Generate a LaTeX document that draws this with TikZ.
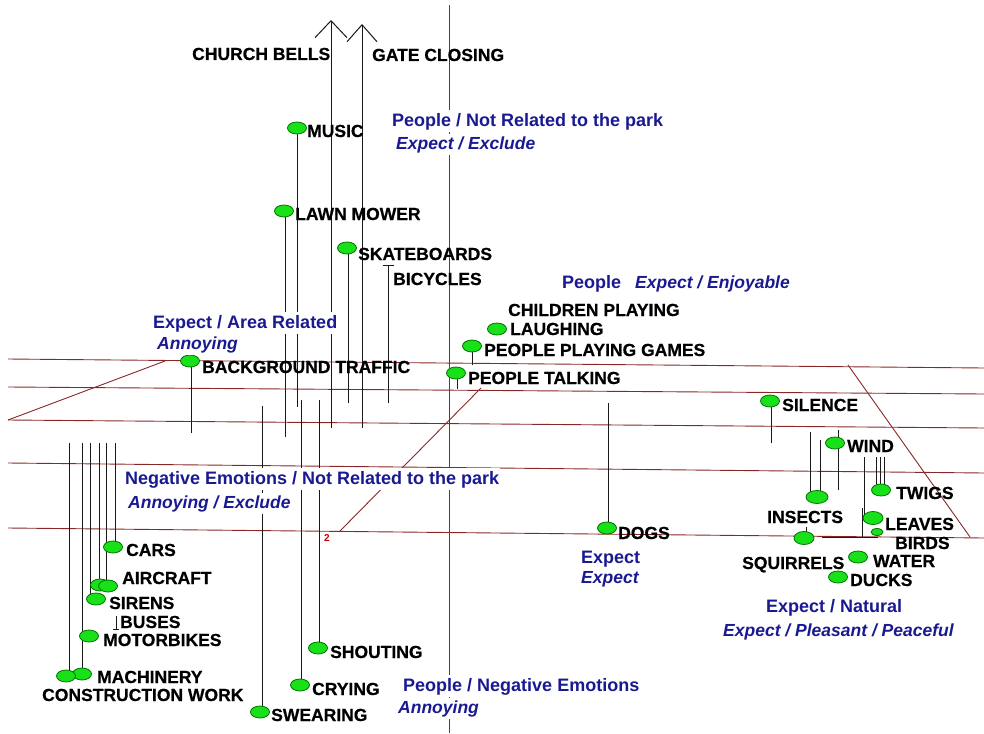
\documentclass[tikz,border=0pt]{standalone}
\usepackage{fontspec}
\setmainfont{Liberation Sans}
\newfontfamily\lblfont{Liberation Sans}[FakeBold=0.6]
\usetikzlibrary{shapes.geometric,arrows.meta}
\pgfdeclarelayer{back}
\pgfsetlayers{back,main}
\definecolor{gridred}{RGB}{135,40,40}
\definecolor{navytxt}{RGB}{25,25,145}
\definecolor{blobgreen}{RGB}{25,225,25}
\definecolor{blobline}{RGB}{0,115,0}
\begin{document}
\begin{tikzpicture}[x=1pt,y=-1pt,%
% lines of the map:
axis/.style = {draw=gridred, line width=0.9pt},
% drop lines of the sounds:
stem/.style = {draw=black!90, line width=1pt},
% green sound markers:
blob/.style = {ellipse, draw=blobline, fill=blobgreen, line width=0.8pt,
            minimum width=19pt, minimum height=12pt, inner sep=0},
% sound names:
lbl/.style = {anchor=base west, inner sep=0, font=\lblfont\bfseries\fontsize{17.5}{18}\selectfont},
% blue group captions:
grp/.style = {anchor=base west, inner xsep=1pt, inner ysep=2.5pt, fill=white,
            text=navytxt, font=\bfseries\fontsize{18}{18}\selectfont},
grpi/.style = {grp, font=\bfseries\itshape\fontsize{17.5}{18}\selectfont}]
\useasboundingbox (0,0) rectangle (984,733);
% markers
\node[blob] (mu) at (297,128) {};
\node[blob] (lm) at (284,211) {};
\node[blob] (sk) at (347,248) {};
\node[blob] (la) at (497,329) {};
\node[blob] (pg) at (472,346) {};
\node[blob] (pt) at (456,373) {};
\node[blob] (bt) at (190,361) {};
\node[blob] (si) at (770,401) {};
\node[blob] (wi) at (835,443) {};
\node[blob] (tw) at (881,490) {};
\node[blob,minimum width=22pt,minimum height=13pt] (in) at (817,497) {};
\node[blob,minimum width=20pt,minimum height=13pt] (le) at (873,518) {};
\node[blob,minimum width=12pt,minimum height=7pt] (bd) at (877,532) {};
\node[blob,minimum width=20pt,minimum height=13pt] (sq) at (804,538) {};
\node[blob] (wa) at (858,557) {};
\node[blob] (du) at (838,577) {};
\node[blob] (dg) at (607,528) {};
\node[blob] (ca) at (113,547) {};
\node[blob] (ai1) at (100,585) {};
\node[blob] (ai2) at (108,586) {};
\node[blob] (sr) at (96,599) {};
\node[blob] (mb) at (89,636) {};
\node[blob] (mc) at (82,674) {};
\node[blob] (cw) at (66,676) {};
\node[blob] (sh) at (318,648) {};
\node[blob] (cr) at (300,685) {};
\node[blob] (sw) at (260,712) {};
% floor points
\coordinate (muF) at (297,407);
\coordinate (lmF) at (285,437);
\coordinate (skF) at (348,403);
\coordinate (btF) at (191,433);
\coordinate (pgF) at (472,365);
\coordinate (ptF) at (457,389);
\coordinate (siF) at (771,443);
\coordinate (dgF) at (608,403);
\coordinate (wiT) at (838,430);
\coordinate (wiF) at (838,490);
\coordinate (inF1) at (810,432);
\coordinate (inF2) at (820,440);
\coordinate (twF1) at (876,457);
\coordinate (twF2) at (880,457);
\coordinate (twF3) at (884,457);
\coordinate (leF) at (864,457);
\coordinate (sqF) at (806,527);
\coordinate (caF) at (115,443);
\coordinate (aiF1) at (99,443);
\coordinate (aiF2) at (106,443);
\coordinate (srF) at (90,443);
\coordinate (mcF) at (82,443);
\coordinate (cwF) at (69,443);
\coordinate (shF) at (319,400);
\coordinate (crF) at (301,400);
\coordinate (swF) at (262,406);
\coordinate (cbF) at (331,428);
\coordinate (cbT) at (331,20);
\coordinate (gcF) at (362,428);
\coordinate (gcT) at (362,24);
\coordinate (biF) at (388,403);
\coordinate (biT) at (388,265);
\coordinate (buT) at (116,616);
\coordinate (buF) at (116,630);
\coordinate (bdA) at (822,537);
\coordinate (bdB) at (878,537);
\coordinate (bdC) at (862,508);
\begin{pgfonlayer}{back}
% map lines
\draw[axis] (8,359) -- (984,368);
\draw[axis] (8,387) -- (984,394);
\draw[axis] (8,420) -- (984,428);
\draw[axis] (8,463) -- (984,473);
\draw[axis] (8,528) -- (984,538);
\draw[axis] (449,5) -- (449,733);
\draw[axis] (8,420) -- (165,361);
\draw[axis] (340,531) -- (481,388);
\draw[axis] (848,365) -- (970,537);
% drop lines
\draw[stem] (muF) -- (muF |- mu.center);
\draw[stem] (lmF) -- (lmF |- lm.center);
\draw[stem] (skF) -- (skF |- sk.center);
\draw[stem] (btF) -- (btF |- bt.center);
\draw[stem] (pgF) -- (pgF |- pg.center);
\draw[stem] (ptF) -- (ptF |- pt.center);
\draw[stem] (siF) -- (siF |- si.center);
\draw[stem] (dgF) -- (dgF |- dg.center);
\draw[stem] (wiT) -- (wiF);
\draw[stem] (inF1) -- (inF1 |- in.center);
\draw[stem] (inF2) -- (inF2 |- in.center);
\draw[stem] (twF1) -- (twF1 |- tw.center);
\draw[stem] (twF2) -- (twF2 |- tw.center);
\draw[stem] (twF3) -- (twF3 |- tw.center);
\draw[stem] (leF) -- (leF |- le.center);
\draw[stem] (sqF) -- (sqF |- sq.center);
\draw[stem] (caF) -- (caF |- ca.center);
\draw[stem] (aiF1) -- (aiF1 |- ai1.center);
\draw[stem] (aiF2) -- (aiF2 |- ai2.center);
\draw[stem] (srF) -- (srF |- sr.center);
\draw[stem] (mcF) -- (mcF |- mc.center);
\draw[stem] (cwF) -- (cwF |- cw.center);
\draw[stem] (shF) -- (shF |- sh.center);
\draw[stem] (crF) -- (crF |- cr.center);
\draw[stem] (swF) -- (swF |- sw.center);
\draw[stem,-{Straight Barb[length=17pt,width=32pt]}] (cbF) -- (cbT);
\draw[stem,-{Straight Barb[length=17pt,width=30pt]}] (gcF) -- (gcT);
\draw[stem,-{Bar[width=11pt]}] (biF) -- (biT);
\draw[stem,-{Bar[width=6pt]}] (buT) -- (buF);
\draw[stem] (bdA) -- (bdB);
\draw[stem] (bdC) -- (bdC |- bdA);
\end{pgfonlayer}
% blue captions
\node[grp] (g1) at (391,126) {People / Not Related to the park};
\node[grpi] (g1b) at (395,149) {Expect / Exclude};
\node[grp] (g2) at (561,288) {People};
\node[grpi] (g2b) at (634,288) {Expect / Enjoyable};
\node[grp] (g3) at (152,328) {Expect / Area Related};
\node[grpi] (g3b) at (156,349) {Annoying};
\node[grp] (g4) at (124,484) {Negative Emotions / Not Related to the park};
\node[grpi] (g4b) at (127,508) {Annoying / Exclude};
\node[grp] (g5) at (580,563) {Expect};
\node[grpi] (g5b) at (580,583) {Expect};
\node[grp] (g6) at (765,612) {Expect / Natural};
\node[grpi] (g6b) at (722,636) {Expect / Pleasant / Peaceful};
\node[grp] (g7) at (402,691) {People / Negative Emotions};
\node[grpi] (g7b) at (397,713) {Annoying};
\node[text=red!75!black, inner sep=0, font=\bfseries\fontsize{10}{10}\selectfont] (two) at (327,538) {2};
% sound names
\node[lbl] (cbL) at (192,60) {CHURCH BELLS};
\node[lbl] (gcL) at (372,61) {GATE CLOSING};
\node[lbl] (muL) at (307,137) {MUSIC};
\node[lbl] (lmL) at (295,220) {LAWN MOWER};
\node[lbl] (skL) at (358,260) {SKATEBOARDS};
\node[lbl] (biL) at (393,285) {BICYCLES};
\node[lbl] (chL) at (508,316) {CHILDREN PLAYING};
\node[lbl] (laL) at (510,335) {LAUGHING};
\node[lbl] (pgL) at (484,356) {PEOPLE PLAYING GAMES};
\node[lbl] (btL) at (202,373) {BACKGROUND TRAFFIC};
\node[lbl] (ptL) at (468,384) {PEOPLE TALKING};
\node[lbl] (siL) at (782,411) {SILENCE};
\node[lbl] (wiL) at (847,452) {WIND};
\node[lbl] (twL) at (896,499) {TWIGS};
\node[lbl] (inL) at (767,523) {INSECTS};
\node[lbl] (leL) at (885,530) {LEAVES};
\node[lbl] (bdL) at (895,549) {BIRDS};
\node[lbl] (sqL) at (742,569) {SQUIRRELS};
\node[lbl] (waL) at (873,567) {WATER};
\node[lbl] (duL) at (850,586) {DUCKS};
\node[lbl] (dgL) at (618,539) {DOGS};
\node[lbl] (caL) at (126,556) {CARS};
\node[lbl] (aiL) at (122,584) {AIRCRAFT};
\node[lbl] (srL) at (109,609) {SIRENS};
\node[lbl] (buL) at (120,628) {BUSES};
\node[lbl] (mbL) at (103,646) {MOTORBIKES};
\node[lbl] (mcL) at (97,683) {MACHINERY};
\node[lbl] (cwL) at (42,701) {CONSTRUCTION WORK};
\node[lbl] (shL) at (330,658) {SHOUTING};
\node[lbl] (crL) at (312,695) {CRYING};
\node[lbl] (swL) at (271,721) {SWEARING};
\end{tikzpicture}
\end{document}
